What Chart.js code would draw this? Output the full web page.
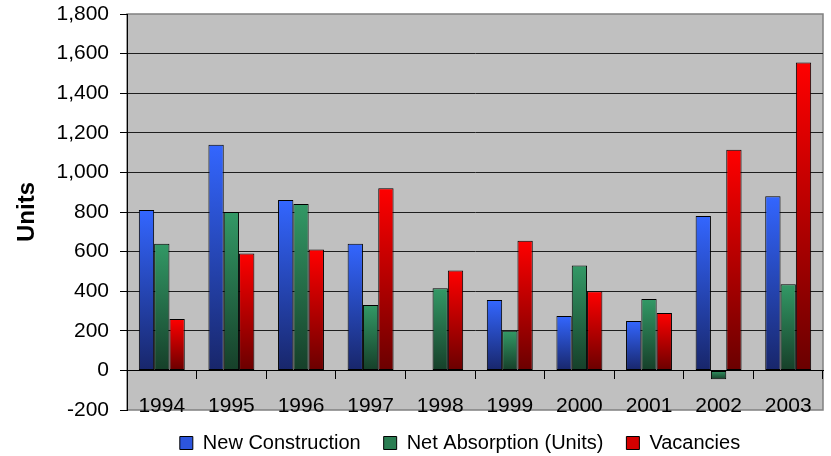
<!DOCTYPE html>
<html>
<head>
<meta charset="utf-8">
<script src="https://cdn.jsdelivr.net/npm/chart.js@4/dist/chart.umd.min.js"></script>
<style>
body{margin:0;background:#fff;}
</style>
</head>
<body>
<canvas id="unitsChart" width="831" height="456"></canvas>
<script>
let years=["1994","1995","1996","1997","1998","1999","2000","2001","2002","2003"];
let newConstruction=[810,1140,860,640,0,355,275,250,780,880];
let netAbsorption=[640,800,840,330,415,200,530,360,-45,435];
let vacancies=[260,590,610,920,505,655,400,290,1115,1555];
let yMin=-200, yMax=1800, yStep=200;

let swatch=["#2d55dd","#2a7d52","#d40000"];

// each bar gets its own top-to-bottom gradient, like the old excel look
function barFill(light,dark){
    return function(c){
        let chart=c.chart;
        if(c.type!=="data" || !chart.chartArea) return light;
        let y=chart.scales.y;
        let v=c.raw;
        let top=y.getPixelForValue(Math.max(v,0));
        let bot=y.getPixelForValue(Math.min(v,0));
        if(bot-top<1) return light;
        let g=chart.ctx.createLinearGradient(0,top,0,bot);
        g.addColorStop(0,light);
        g.addColorStop(1,dark);
        return g;
    };
}

let plotBg={
    id:"plotBg",
    beforeDraw(chart){
        let a=chart.chartArea, ctx=chart.ctx;
        ctx.save();
        ctx.fillStyle="#c0c0c0";
        ctx.fillRect(a.left,a.top,a.right-a.left,a.bottom-a.top);
        ctx.strokeStyle="#808080";
        ctx.lineWidth=1.5;
        ctx.strokeRect(a.left,a.top,a.right-a.left,a.bottom-a.top);
        ctx.restore();
    },
    afterLayout(chart){
        // legend sits a bit left of the plot centre in the original
        chart.legend.left-=15;
        chart.legend.right-=15;
    }
};

Chart.defaults.font.family="'Liberation Sans', Arial, sans-serif";
Chart.defaults.color="#000";

let ctx=document.getElementById("unitsChart").getContext("2d");
new Chart(ctx,{
    type:"bar",
    data:{
        labels:years,
        datasets:[{
            label:"New Construction",
            data:newConstruction,
            backgroundColor:barFill("#3366ff","#18266a")
        },{
            label:"Net Absorption (Units)",
            data:netAbsorption,
            backgroundColor:barFill("#339966","#163f29")
        },{
            label:"Vacancies",
            data:vacancies,
            backgroundColor:barFill("#ff0000","#6a0000")
        }]
    },
    options:{
        responsive:false,
        animation:false,
        datasets:{
            bar:{
                borderColor:"#000",
                borderWidth:1,
                borderSkipped:false,
                barPercentage:1,
                categoryPercentage:0.66
            }
        },
        layout:{padding:{top:14,right:8,bottom:-7,left:0}},
        plugins:{
            tooltip:{enabled:false},
            legend:{
                position:"bottom",
                fullSize:false,
                labels:{
                    boxWidth:13,
                    boxHeight:13,
                    padding:23,
                    font:{size:20},
                    color:"#000",
                    generateLabels:function(chart){
                        let items=Chart.defaults.plugins.legend.labels.generateLabels(chart);
                        items.forEach(function(it,i){ it.fillStyle=swatch[i]; });
                        return items;
                    }
                }
            }
        },
        scales:{
            x:{
                position:{y:0},
                grid:{
                    display:true,
                    drawOnChartArea:false,
                    tickLength:8,
                    color:"#000",
                    offset:true
                },
                border:{display:true,color:"#000",width:1},
                ticks:{font:{size:21},padding:15,maxRotation:0,autoSkip:false,color:"#000"}
            },
            y:{
                min:yMin,
                max:yMax,
                ticks:{
                    stepSize:yStep,
                    font:{size:21},
                    padding:11,
                    color:"#000",
                    callback:function(v){return v.toLocaleString("en-US");}
                },
                grid:{
                    color:function(c){
                        if(c.tick && (c.tick.value===yMin || c.tick.value===yMax)) return "rgba(0,0,0,0)";
                        return "#1e1e1e";
                    },
                    tickLength:7,
                    tickColor:"#000"
                },
                border:{color:"#000",width:1},
                title:{
                    display:true,
                    text:"Units",
                    font:{size:24,weight:"bold"},
                    padding:{top:13,bottom:0},
                    color:"#000"
                },
                afterFit:function(s){
                    s.width=127;
                    s.paddingTop=0;
                    s.paddingBottom=0;
                }
            }
        }
    },
    plugins:[plotBg]
});
</script>
</body>
</html>
